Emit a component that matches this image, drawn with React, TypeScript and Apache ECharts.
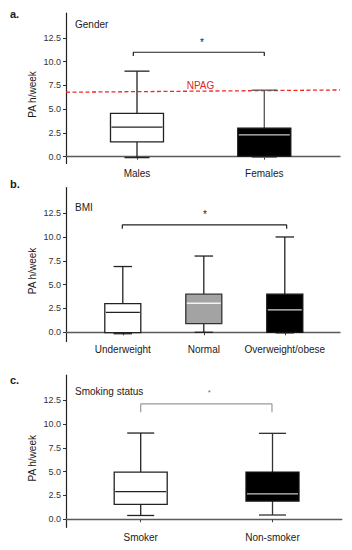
import React, { useEffect, useRef } from "react";
import * as echarts from "echarts";

// ---------- data ----------
const yTicks = [0, 2.5, 5, 7.5, 10, 12.5];

const genderCats = ["Males", "Females"];
// [min, Q1, median, Q3, max]
const genderStats = [
  [-0.1, 1.55, 3.1, 4.55, 9.0],
  [-0.05, 0.05, 2.3, 3.0, 7.0],
];
const npagLine = [6.78, 7.02]; // NPAG reference (left end, right end)
const npagLabelValue = 7.54;

const bmiCats = ["Underweight", "Normal", "Overweight/obese"];
const bmiStats = [
  [-0.15, -0.03, 2.1, 3.0, 6.9],
  [0.0, 0.9, 3.05, 4.0, 8.0],
  [-0.06, 0.0, 2.35, 4.0, 10.0],
];

const smokeCats = ["Smoker", "Non-smoker"];
const smokeStats = [
  [0.4, 1.57, 2.9, 4.95, 9.05],
  [0.45, 1.92, 2.66, 4.95, 9.02],
];

// significance brackets: [x left, x right], [drop end y, bar y], star [x, y]
const bracketA = { x: [0.971, 2.0], y: [10.6, 10.99], star: [1.511, 12.0] };
const bracketB = { x: [0.994, 3.023], y: [10.87, 11.26], star: [2.015, 12.34] };
const bracketC = { x: [1.0, 1.996], y: [11.23, 12.1], star: [1.52, 13.28] };

// ---------- styles ----------
const FONT = '"Liberation Sans", Arial, sans-serif';
const whiteBox = { fill: "#ffffff", stroke: "#222", median: "#222", whisker: "#222" };
const blackBox = { fill: "#000000", stroke: "#111", median: "#c8c8c8", whisker: "#555" };
const grayBox = { fill: "#a3a3a3", stroke: "#333", median: "#f2f2f2", whisker: "#222" };
const genderStyles = [whiteBox, blackBox];
const bmiStyles = [whiteBox, grayBox, { ...blackBox, whisker: "#222", median: "#d8d8d8" }];
const smokeStyles = [whiteBox, { ...blackBox, whisker: "#333" }];

function boxRenderer(boxW: number, capW: number, styles: any[]) {
  return (params: any, api: any) => {
    const x = api.value(0);
    const pts = [1, 2, 3, 4, 5].map((d) => api.coord([x, api.value(d)]));
    const cx = pts[0][0];
    const [lo, q1, md, q3, hi] = pts.map((p: number[]) => p[1]);
    const st = styles[params.dataIndex];
    const lw = 1.3;
    const ln = (x1: number, y1: number, x2: number, y2: number, c: string) => ({
      type: "line",
      shape: { x1, y1, x2, y2 },
      style: { stroke: c, lineWidth: lw },
    });
    return {
      type: "group",
      children: [
        ln(cx, lo, cx, q1, st.whisker),
        ln(cx, q3, cx, hi, st.whisker),
        ln(cx - capW / 2, lo, cx + capW / 2, lo, st.whisker),
        ln(cx - capW / 2, hi, cx + capW / 2, hi, st.whisker),
        {
          type: "rect",
          shape: { x: cx - boxW / 2, y: q3, width: boxW, height: q1 - q3 },
          style: { fill: st.fill, stroke: st.stroke, lineWidth: lw },
        },
        ln(cx - boxW / 2 + 1, md, cx + boxW / 2 - 1, md, st.median),
      ],
    };
  };
}

function textRenderer(text: string, color: string, size: number) {
  return (params: any, api: any) => {
    const p = api.coord([api.value(0), api.value(1)]);
    return {
      type: "text",
      x: p[0],
      y: p[1],
      style: {
        text,
        fill: color,
        font: `${size}px ${FONT}`,
        align: "center",
        verticalAlign: "middle",
      },
    };
  };
}

function makeX(gridIndex: number, min: number, max: number, cats: string[], margin: number) {
  const vals = cats.map((_, i) => i + 1);
  return {
    type: "value",
    gridIndex,
    min,
    max,
    splitLine: { show: false },
    axisLine: { show: true, lineStyle: { color: "#5a5a5a", width: 1.4 } },
    axisTick: { show: true, length: 3, customValues: vals, lineStyle: { color: "#444" } },
    axisLabel: {
      show: true,
      customValues: vals,
      margin,
      fontSize: 10,
      fontFamily: FONT,
      color: "#1a1a1a",
      formatter: (v: number) => cats[Math.round(v) - 1] ?? "",
    },
  };
}

function makeY(gridIndex: number, min: number, max: number) {
  return {
    type: "value",
    gridIndex,
    min,
    max,
    splitLine: { show: false },
    axisLine: { show: true, lineStyle: { color: "#222", width: 1.2 } },
    axisTick: { show: true, length: 3, customValues: yTicks, lineStyle: { color: "#333" } },
    axisLabel: {
      show: true,
      customValues: yTicks,
      margin: 5,
      fontSize: 9,
      fontFamily: FONT,
      color: "#333",
      formatter: (v: number) => v.toFixed(1),
    },
  };
}

function bracketSeries(idx: number, b: any, color: string, starColor: string, starSize: number) {
  return [
    {
      type: "line",
      xAxisIndex: idx,
      yAxisIndex: idx,
      data: [
        [b.x[0], b.y[0]],
        [b.x[0], b.y[1]],
        [b.x[1], b.y[1]],
        [b.x[1], b.y[0]],
      ],
      showSymbol: false,
      symbol: "none",
      lineStyle: { color, width: 1.2 },
      itemStyle: { color },
      silent: true,
    },
    {
      type: "custom",
      xAxisIndex: idx,
      yAxisIndex: idx,
      data: [b.star],
      itemStyle: { color: starColor },
      renderItem: textRenderer("*", starColor, starSize),
      silent: true,
    },
  ];
}

const xA = { min: 0.4423, max: 2.5947 };
const xB = { min: 0.2988, max: 3.6815 };
const xC = { min: 0.4332, max: 2.525 };

export default function App() {
  const ref = useRef<HTMLDivElement>(null);
  useEffect(() => {
    if (!ref.current) return;
    const chart = echarts.init(ref.current, null, { renderer: "svg" });
    const textEl = (text: string, x: number, y: number, font: string, extra: any = {}) => ({
      type: "text",
      x,
      y,
      ...extra,
      style: { text, fill: "#1a1a1a", font, align: "left", verticalAlign: "middle", ...(extra.style || {}) },
    });
    const yName = (y: number) =>
      textEl("PA h/week", 32, y, `10px ${FONT}`, {
        rotation: Math.PI / 2,
        style: { align: "center", verticalAlign: "middle", fill: "#1a1a1a", text: "PA h/week", font: `10px ${FONT}` },
      });
    chart.setOption({
      animation: false,
      backgroundColor: "#ffffff",
      grid: [
        { left: 66, top: 13, width: 274, height: 150.5 },
        { left: 66, top: 187.5, width: 274, height: 154 },
        { left: 66, top: 375, width: 275.7, height: 152.3 },
      ],
      xAxis: [
        makeX(0, xA.min, xA.max, genderCats, 4.5),
        makeX(1, xB.min, xB.max, bmiCats, 2.5),
        makeX(2, xC.min, xC.max, smokeCats, 5.5),
      ],
      yAxis: [makeY(0, -0.72, 15.12), makeY(1, -0.965, 15.19), makeY(2, -0.84, 15.14)],
      graphic: [
        textEl("a.", 10, 13.5, `bold 11px ${FONT}`),
        textEl("b.", 10, 183.5, `bold 11px ${FONT}`),
        textEl("c.", 10, 380, `bold 11px ${FONT}`),
        textEl("Gender", 75, 24, `10px ${FONT}`),
        textEl("BMI", 75, 207.7, `10px ${FONT}`),
        textEl("Smoking status", 75, 391, `10px ${FONT}`),
        yName(94.5),
        yName(271),
        yName(458.3),
      ],
      series: [
        {
          type: "line",
          xAxisIndex: 0,
          yAxisIndex: 0,
          data: [
            [xA.min, npagLine[0]],
            [xA.max, npagLine[1]],
          ],
          showSymbol: false,
          symbol: "none",
          lineStyle: { color: "#f02828", width: 1.3, type: [4, 2.5] },
          itemStyle: { color: "#f02828" },
          silent: true,
          z: 1,
        },
        {
          type: "custom",
          xAxisIndex: 0,
          yAxisIndex: 0,
          data: [[1.499, npagLabelValue]],
          itemStyle: { color: "#e02424" },
          renderItem: textRenderer("NPAG", "#e02424", 10),
          silent: true,
        },
        {
          type: "custom",
          xAxisIndex: 0,
          yAxisIndex: 0,
          data: genderStats.map((s, i) => [i + 1, ...s]),
          renderItem: boxRenderer(53, 25, genderStyles),
          silent: true,
          z: 3,
        },
        {
          type: "custom",
          xAxisIndex: 1,
          yAxisIndex: 1,
          data: bmiStats.map((s, i) => [i + 1, ...s]),
          renderItem: boxRenderer(36, 18.5, bmiStyles),
          silent: true,
        },
        {
          type: "custom",
          xAxisIndex: 2,
          yAxisIndex: 2,
          data: smokeStats.map((s, i) => [i + 1, ...s]),
          renderItem: boxRenderer(53, 27, smokeStyles),
          silent: true,
        },
        ...bracketSeries(0, bracketA, "#222", "#222", 10),
        ...bracketSeries(1, bracketB, "#222", "#222", 10),
        ...bracketSeries(2, bracketC, "#9a9a9a", "#777", 8),
      ],
    });
    return () => chart.dispose();
  }, []);
  return (
    <div
      ref={ref}
      style={{ position: "absolute", left: 0, top: 0, width: 352, height: 550, background: "#fff" }}
    />
  );
}
